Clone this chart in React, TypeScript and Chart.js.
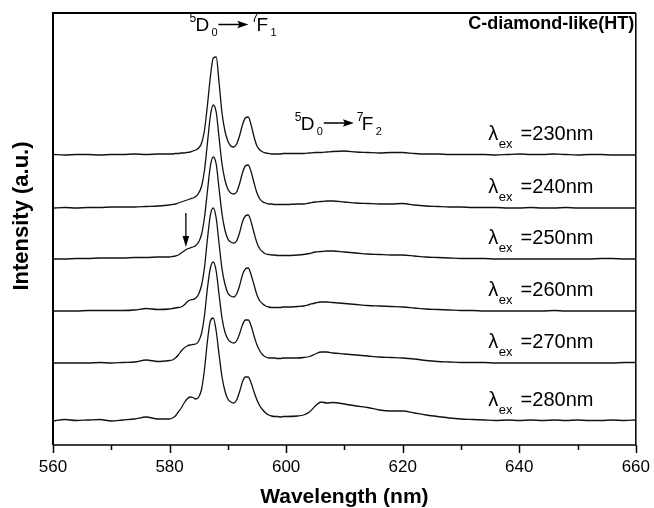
import React, { useEffect, useRef } from "react";
import { Chart, registerables } from "chart.js";

Chart.register(...registerables);

const FONT = '"Liberation Sans", Arial, Helvetica, sans-serif';

// Wavelength grid (nm)
const WAVELENGTHS = [
  560, 562, 564, 566, 568, 570, 572, 574, 576, 578,
  580, 580.5, 581, 581.5, 582, 582.5, 583, 583.5, 584, 584.5,
  585, 585.5, 586, 586.5, 587, 587.5, 588, 588.5, 589, 589.5,
  590, 590.5, 591, 591.5, 592, 592.5, 593, 593.5, 594, 594.5,
  595, 595.5, 596, 596.5, 597, 597.5, 598, 598.5, 599, 599.5,
  600, 602, 603, 604, 605, 606, 607, 608, 610, 612, 614, 616, 618,
  620, 622, 624, 626, 628, 630, 632, 634, 636, 638,
  640, 642, 644, 646, 648, 650, 652, 654, 656, 658, 660,
];

const EXCITATIONS = ["230", "240", "250", "260", "270", "280"];
// vertical stacking offsets of each spectrum (a.u.)
const OFFSETS = [290, 237, 186, 134, 82, 24];

const I230 = [
  0.5, 0, 0.5, 0.5, 0, 0.5, 0.5, 1, 0.5, 1,
  1, 1, 1.5, 1.5, 2, 2, 2.5, 3, 4, 5,
  7, 12, 25, 50, 78, 97, 98, 72, 42, 24,
  14, 9, 8, 11, 19, 30, 37, 38, 30, 18,
  9, 5, 3, 2, 1.5, 1, 1, 1, 1, 1.5,
  1.5, 1.5, 1.5, 2, 2.5, 2.5, 3, 3.5, 4, 3, 2.5, 2, 2.5,
  2.5, 1.5, 1, 1, 0.5, 0.5, 0.5, 0.5, 0, 0.5,
  1, 0.5, 0.5, 1, 0.5, 0, 0.5, 0.5, 0, 0, 0,
];
const I240 = [
  0, 0.5, 0, 0.5, 0.5, 1, 1, 1, 1.5, 2,
  3, 3.5, 4, 5, 6, 7, 8, 9, 10, 11.5,
  15, 22, 38, 65, 92, 103, 96, 70, 44, 28,
  19, 15, 14, 16, 24, 35, 42, 43, 36, 25,
  15, 9, 6, 5, 4, 4, 3.5, 3.5, 3.5, 3.5,
  3.5, 4, 4, 5, 6, 6.5, 7, 7, 6, 5, 4.5, 4, 4,
  4.5, 3, 2, 1.5, 1, 1, 0.5, 0.5, 0.5, 0,
  0, 0.5, 0, 0, 0.5, 0, 0, 0, 0, 0, 0,
];
const I250 = [
  0, 0, 0.5, 0.5, 1, 1, 1, 1.5, 1.5, 2,
  2, 2.5, 3, 4, 6, 8, 10, 11, 12, 13.5,
  17, 25, 42, 68, 93, 102, 95, 70, 45, 29,
  20, 17, 16, 18, 26, 37, 43, 44, 37, 26,
  16, 10, 7, 5, 4.5, 4, 4, 3.5, 3.5, 3.5,
  3.5, 4, 4.5, 5.5, 7, 7.5, 8, 8, 7, 6, 5, 4.5, 4,
  4, 3, 2, 1.5, 1, 0.5, 0.5, 0.5, 0, 0,
  0, 0, 0, 0, 0, 0, 0, 0.5, 0.5, 0, 0,
];
const I260 = [
  0, 0, 0, 0.5, 0.5, 0.5, 0.5, 1, 2.5, 1.5,
  2, 2.5, 3, 3.5, 4, 6, 9, 11, 11.5, 13,
  17, 26, 44, 72, 96, 103, 93, 67, 42, 27,
  18, 15, 14, 17, 25, 36, 42, 43, 36, 26,
  16, 10, 7, 5, 4, 3.5, 3.5, 3.5, 3.5, 4,
  4, 4.5, 5, 6.5, 8, 9, 9, 8.5, 7.5, 6.5, 5.5, 5, 4.5,
  4, 3, 2, 1.5, 1, 0.5, 0.5, 0, 0, 0,
  0, 0, 0, 0.5, 0, 0, 0, 0, 0, 0, 0,
];
const I270 = [
  0, 0, 0, 0, 0.5, 0, 0.5, 1, 3, 1.5,
  2.5, 3, 5, 8, 12, 15, 17, 18, 18.5, 19,
  22, 30, 48, 75, 95, 101, 92, 68, 45, 31,
  24, 21, 20, 22, 29, 38, 43, 43, 37, 27,
  18, 12, 8, 6, 5, 5, 5, 4.5, 4.5, 5,
  5, 5, 5.5, 6.5, 9, 11, 11, 10, 9, 8, 7, 6, 5.5,
  5, 4, 2.5, 1.5, 1, 0.5, 0.5, 0.5, 0, 0,
  0, 0, 0, 0, 0, 0, 0, 0, 0, 0.5, 0.5,
];
const I280 = [
  0, 1.5, 0.5, 1, 1.5, 0, 1, 2, 4, 2,
  2, 3, 5, 9, 13, 18, 22, 24, 23.5, 22,
  24, 32, 52, 80, 100, 103, 90, 66, 44, 30,
  22, 19, 18, 21, 29, 39, 44, 44, 38, 29,
  21, 15, 11, 8, 6, 5, 4.5, 4.5, 4, 4.5,
  4.5, 5, 6, 9, 15, 19, 18, 18.5, 17, 15, 13.5, 11, 10,
  10, 8, 6, 4.5, 3, 2, 1.5, 1, 0.5, 1,
  0.5, 1, 0.5, 1, 0.5, 1, 0.5, 0.5, 1, 0.5, 1,
];
const SERIES = [I230, I240, I250, I260, I270, I280];

const X_TICKS = [560, 570, 580, 590, 600, 610, 620, 630, 640, 650, 660];
const X_LABELED = [560, 580, 600, 620, 640, 660];

function txt(ctx: CanvasRenderingContext2D, s: string, x: number, y: number, font: string, align: CanvasTextAlign = "left") {
  ctx.font = font;
  ctx.textAlign = align;
  ctx.textBaseline = "alphabetic";
  ctx.fillText(s, x, y);
}

function drawTransition(ctx: CanvasRenderingContext2D, x0: number, y0: number, lowerSub: string) {
  txt(ctx, "5", x0, y0 - 9, `12px ${FONT}`);
  txt(ctx, "D", x0 + 6, y0, `19px ${FONT}`);
  txt(ctx, "0", x0 + 22, y0 + 5, `11px ${FONT}`);
  const ay = y0 - 6.5;
  const ax1 = x0 + 29;
  const ax2 = x0 + 59;
  ctx.lineWidth = 1.5;
  ctx.beginPath();
  ctx.moveTo(ax1, ay);
  ctx.lineTo(ax2 - 6, ay);
  ctx.stroke();
  ctx.beginPath();
  ctx.moveTo(ax2, ay);
  ctx.lineTo(ax2 - 11, ay - 3.8);
  ctx.lineTo(ax2 - 9, ay);
  ctx.lineTo(ax2 - 11, ay + 3.8);
  ctx.closePath();
  ctx.fill();
  txt(ctx, "7", x0 + 62, y0 - 9, `12px ${FONT}`);
  txt(ctx, "F", x0 + 67, y0, `19px ${FONT}`);
  txt(ctx, lowerSub, x0 + 81, y0 + 5, `11px ${FONT}`);
}

const decor = {
  id: "decor",
  afterDraw(chart: any) {
    const ctx: CanvasRenderingContext2D = chart.ctx;
    const { left, right, top, bottom } = chart.chartArea;
    const xs = chart.scales.x;
    const ys = chart.scales.y;
    ctx.save();
    ctx.strokeStyle = "#000";
    ctx.fillStyle = "#000";
    ctx.lineCap = "butt";

    // frame
    ctx.lineWidth = 2;
    ctx.beginPath();
    ctx.moveTo(left, bottom);
    ctx.lineTo(left, top);
    ctx.lineTo(right, top);
    ctx.stroke();
    ctx.lineWidth = 1.5;
    ctx.beginPath();
    ctx.moveTo(right, top);
    ctx.lineTo(right, bottom);
    ctx.lineTo(left, bottom);
    ctx.stroke();

    // x ticks (major + minor)
    for (const v of X_TICKS) {
      const px = Math.round(xs.getPixelForValue(v)) + 0.5;
      const len = X_LABELED.includes(v) ? 8 : 5;
      ctx.lineWidth = 1.5;
      ctx.beginPath();
      ctx.moveTo(px, bottom);
      ctx.lineTo(px, bottom + len);
      ctx.stroke();
    }

    // excitation labels
    EXCITATIONS.forEach((e, i) => {
      const yb = ys.getPixelForValue(OFFSETS[i] + 15);
      const lx = xs.getPixelForValue(634.7);
      ctx.font = `20px ${FONT}`;
      const wl = ctx.measureText("λ").width;
      ctx.font = `13px ${FONT}`;
      const we = ctx.measureText("ex").width;
      txt(ctx, "λ", lx, yb, `20px ${FONT}`);
      txt(ctx, "ex", lx + wl + 0.5, yb + 8, `13px ${FONT}`);
      txt(ctx, "=" + e + "nm", lx + wl + 0.5 + we + 8, yb, `20px ${FONT}`);
    });

    // sample name
    txt(ctx, "C-diamond-like(HT)", right - 1.5, top + 16, `bold 18px ${FONT}`, "right");

    // transitions
    drawTransition(ctx, xs.getPixelForValue(583.4), ys.getPixelForValue(414), "1");
    drawTransition(ctx, xs.getPixelForValue(601.5), ys.getPixelForValue(315.5), "2");

    // down arrow marking the shoulder
    const axp = xs.getPixelForValue(582.8);
    const ay1 = ys.getPixelForValue(232);
    const ay2 = ys.getPixelForValue(198);
    ctx.lineWidth = 1.3;
    ctx.beginPath();
    ctx.moveTo(axp, ay1);
    ctx.lineTo(axp, ay2 - 8);
    ctx.stroke();
    ctx.beginPath();
    ctx.moveTo(axp, ay2);
    ctx.lineTo(axp - 3.3, ay2 - 11);
    ctx.lineTo(axp + 3.3, ay2 - 11);
    ctx.closePath();
    ctx.fill();

    // axis titles
    txt(ctx, "Wavelength (nm)", (left + right) / 2, 503, `bold 21px ${FONT}`, "center");
    ctx.save();
    ctx.translate(28, 216);
    ctx.rotate(-Math.PI / 2);
    txt(ctx, "Intensity (a.u.)", 0, 0, `bold 22px ${FONT}`, "center");
    ctx.restore();

    ctx.restore();
  },
};

export default function App() {
  const ref = useRef<HTMLCanvasElement | null>(null);
  useEffect(() => {
    if (!ref.current) return;
    Chart.defaults.font.family = FONT;
    const chart = new Chart(ref.current, {
      type: "line",
      data: {
        datasets: SERIES.map((s, i) => ({
          label: EXCITATIONS[i],
          data: WAVELENGTHS.map((x, j) => ({ x, y: OFFSETS[i] + s[j] })),
          borderColor: "#111",
          borderWidth: 1.3,
          pointRadius: 0,
          cubicInterpolationMode: "monotone",
          fill: false,
        })),
      },
      options: {
        animation: false,
        responsive: false,
        maintainAspectRatio: false,
        layout: { padding: { left: 53, right: 16, top: 13, bottom: 0 } },
        plugins: { legend: { display: false }, tooltip: { enabled: false } },
        scales: {
          x: {
            type: "linear",
            min: 560,
            max: 660,
            afterFit: (s: any) => {
              s.height = 63;
            },
            ticks: {
              stepSize: 10,
              autoSkip: false,
              maxRotation: 0,
              padding: 4,
              color: "#000",
              font: { family: FONT, size: 17 },
              callback: (v: any) => (X_LABELED.includes(Number(v)) ? String(v) : ""),
            },
            grid: { display: false, drawTicks: true, tickLength: 8 },
            border: { display: false },
          },
          y: { display: false, min: 0, max: 432 },
        },
      },
      plugins: [decor],
    } as any);
    return () => chart.destroy();
  }, []);
  return (
    <div style={{ position: "fixed", left: 0, top: 0, width: 654, height: 508, background: "#fff" }}>
      <canvas ref={ref} width={654} height={508} style={{ width: 654, height: 508 }} />
    </div>
  );
}
